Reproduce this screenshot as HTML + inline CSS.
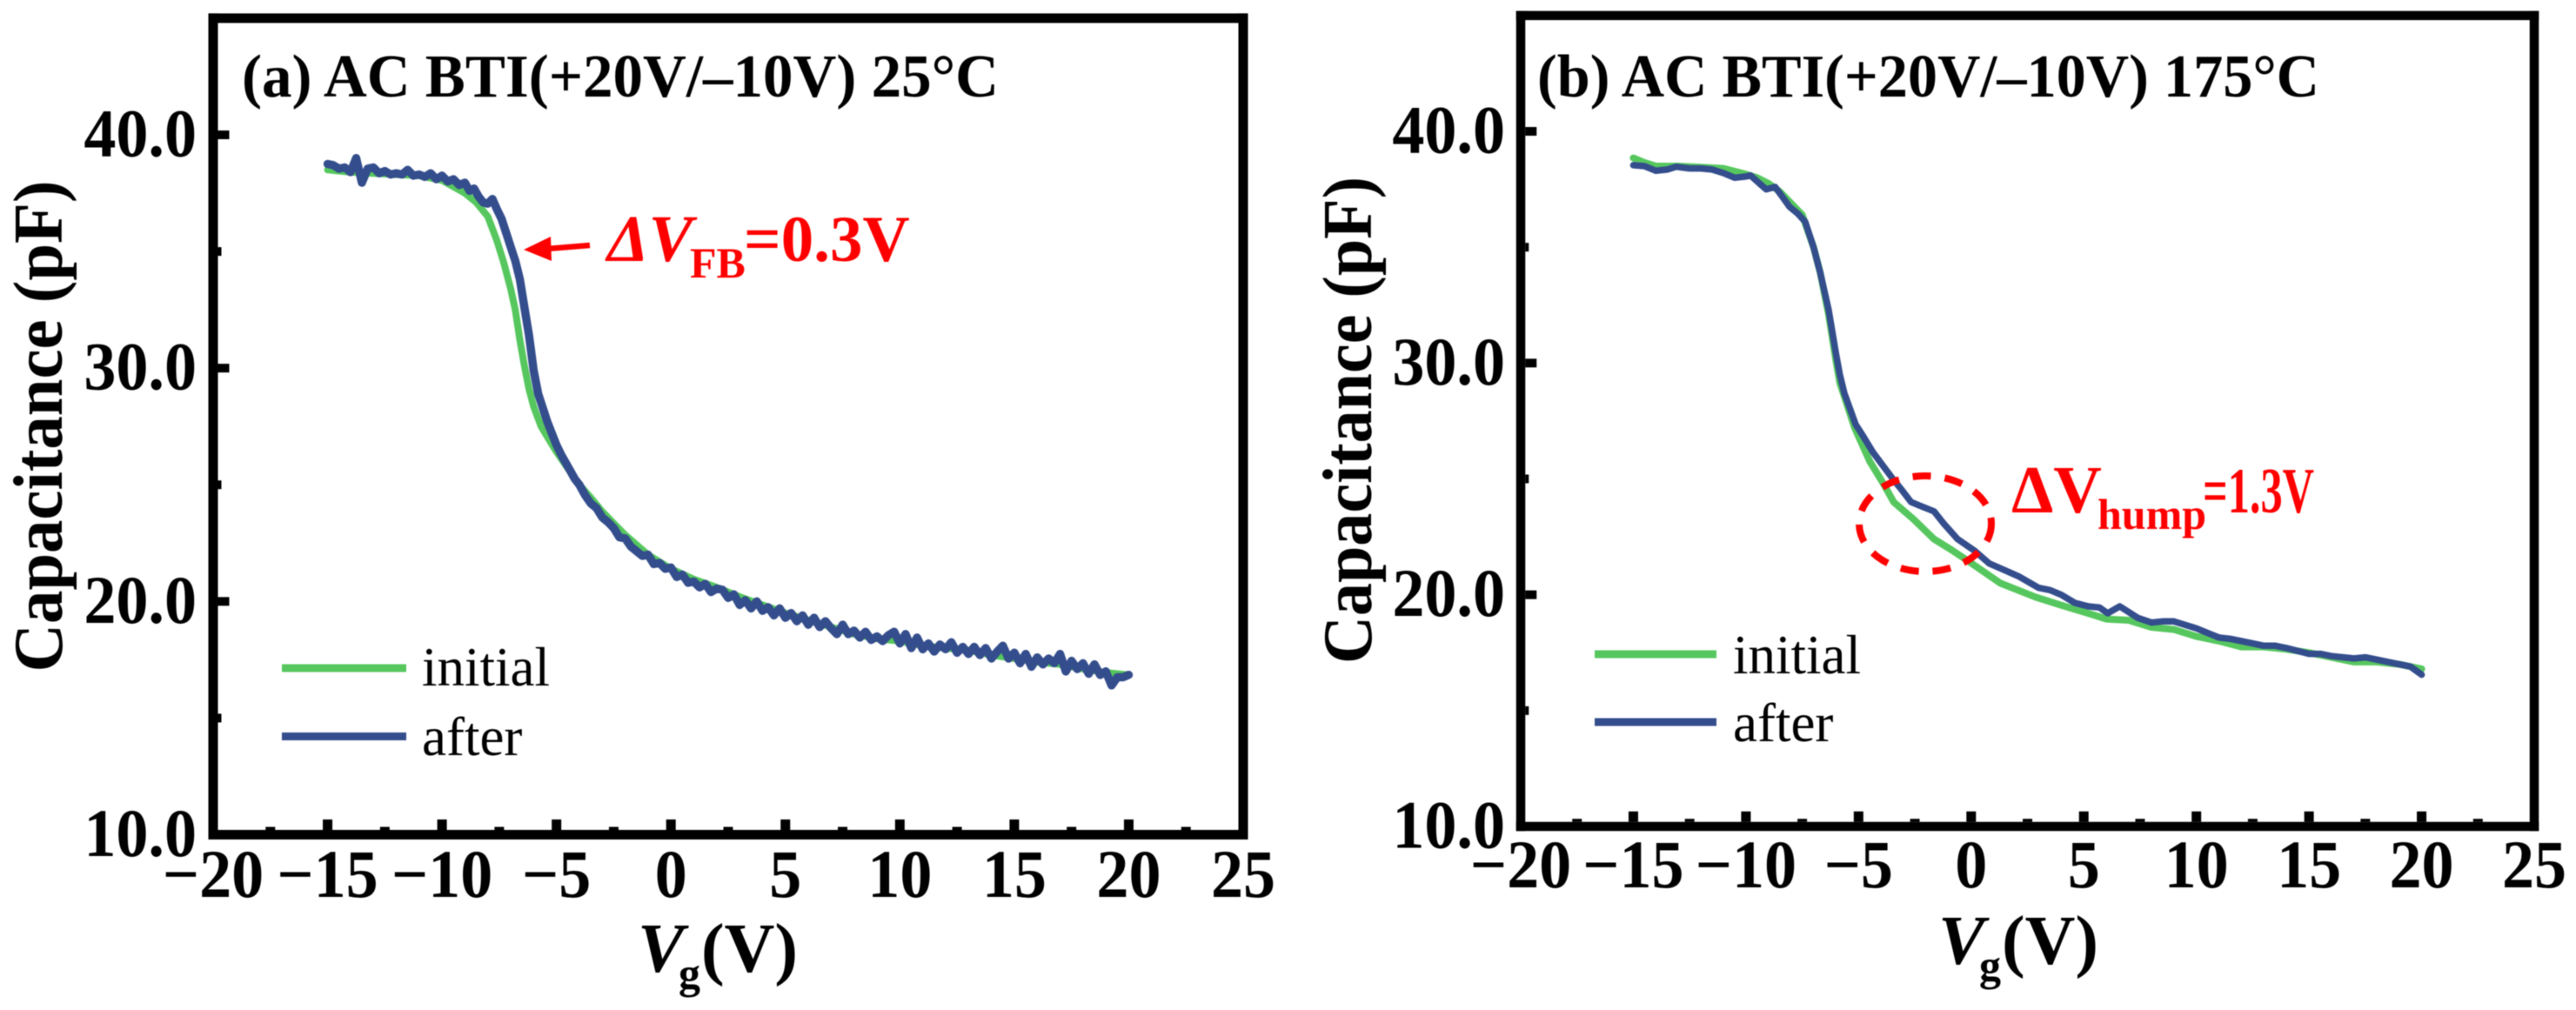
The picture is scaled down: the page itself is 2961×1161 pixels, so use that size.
<!DOCTYPE html>
<html lang="en">
<head>
<meta charset="utf-8">
<title>AC BTI capacitance-voltage curves</title>
<style>
html,body{margin:0;padding:0;background:#fff;}
svg{display:block;filter:blur(0.6px);}
text{font-family:"Liberation Serif","Times New Roman",serif;fill:#000;}
.b{font-weight:bold;}
.i{font-style:italic;}
.red{fill:#ff0000;}
</style>
</head>
<body>
<svg id="figure" xmlns="http://www.w3.org/2000/svg" width="2961" height="1161" viewBox="0 0 2961 1161">
<g id="panel-a">
  <text class="b" x="278" y="111" font-size="70" textLength="870" lengthAdjust="spacingAndGlyphs">(a) AC BTI(+20V/–10V) 25°C</text>
  <text class="b" transform="translate(71,490) rotate(-90)" text-anchor="middle" font-size="80" textLength="565" lengthAdjust="spacingAndGlyphs">Capacitance (pF)</text>
  <text class="b i" x="733" y="1117" font-size="80">V</text>
  <text class="b" x="780" y="1136" font-size="50">g</text>
  <text class="b" x="806" y="1117" font-size="80">(V)</text>
  <text x="485" y="788" font-size="63">initial</text>
  <text x="485" y="868" font-size="63">after</text>
  <line x1="324" x2="467" y1="768" y2="768" stroke="#56c75e" stroke-width="9"/>
  <line x1="324" x2="467" y1="846.5" y2="846.5" stroke="#344d8c" stroke-width="9"/>
  <g>
    <line x1="678" y1="282" x2="628" y2="286" stroke="#ff0000" stroke-width="6.5"/>
    <polygon points="602,287 633,272 634,300" fill="#ff0000"/>
    <text class="b i red" x="698" y="300" font-size="76">ΔV</text>
    <text class="b red" x="793" y="319" font-size="50">FB</text>
    <text class="b red" x="855" y="300" font-size="75">=0.3V</text>
  </g>
</g>
<g id="panel-b">
  <text class="b" x="1767" y="111" font-size="70" textLength="899" lengthAdjust="spacingAndGlyphs">(b) AC BTI(+20V/–10V) 175°C</text>
  <text class="b" transform="translate(1576,483) rotate(-90)" text-anchor="middle" font-size="80" textLength="560" lengthAdjust="spacingAndGlyphs">Capacitance (pF)</text>
  <text class="b i" x="2228" y="1108" font-size="80">V</text>
  <text class="b" x="2275" y="1127" font-size="50">g</text>
  <text class="b" x="2301" y="1108" font-size="80">(V)</text>
  <text x="1992" y="774" font-size="63">initial</text>
  <text x="1992" y="852" font-size="63">after</text>
  <line x1="1833" x2="1973" y1="752" y2="752" stroke="#56c75e" stroke-width="9"/>
  <line x1="1833" x2="1973" y1="830" y2="830" stroke="#344d8c" stroke-width="9"/>
  <g>
    <text class="b red" x="2312" y="589" font-size="77">ΔV</text>
    <text class="b red" x="2411" y="608" font-size="50">hump</text>
    <text class="b red" x="2532" y="589" font-size="74" textLength="128" lengthAdjust="spacingAndGlyphs">=1.3V</text>
  </g>
</g>
<script>
// ----- chart data -----
const xTickLabels = [-20, -15, -10, -5, 0, 5, 10, 15, 20, 25];
const yTickLabels = [10, 20, 30, 40];
const vgFine = [-15,-14.75,-14.5,-14.25,-14,-13.75,-13.5,-13.25,-13,-12.75,-12.5,-12.25,-12,-11.75,-11.5,-11.25,-11,-10.75,-10.5,-10.25,-10,-9.75,-9.5,-9.25,-9,
-8.8,-8.6,-8.4,-8.2,-8,-7.8,-7.6,-7.4,-7.2,-7,-6.8,-6.6,-6.4,-6.2,-6,-5.8,-5.6,-5.4,-5.2,-5,-4.8,-4.6,-4.4,-4.2,-4,
-3.75,-3.5,-3.25,-3,-2.75,-2.5,-2.25,-2,-1.75,-1.5,-1.25,-1,-0.75,-0.5,-0.25,0,0.25,0.5,0.75,1,1.25,1.5,1.75,2,2.25,2.5,2.75,3,3.25,3.5,3.75,4,4.25,4.5,4.75,5,5.25,5.5,5.75,6,6.25,6.5,6.75,7,7.25,7.5,7.75,8,8.25,8.5,8.75,9,9.25,9.5,9.75,10,10.25,10.5,10.75,11,11.25,11.5,11.75,12,12.25,12.5,12.75,13,13.25,13.5,13.75,14,14.25,14.5,14.75,15,15.25,15.5,15.75,16,16.25,16.5,16.75,17,17.25,17.5,17.75,18,18.25,18.5,18.75,19,19.25,19.5,19.75,20];
const capAfterA = [38.75,38.7,38.55,38.6,38.4,39,37.95,38.55,38.6,38.35,38.45,38.3,38.35,38.3,38.5,38.25,38.3,38.2,38.35,38.1,38.25,38,38.1,37.85,37.95,
37.6,37.7,37.35,37.1,37.05,37.25,36.8,36.4,35.8,35.2,34.6,33.8,32.6,31.4,29.9,28.9,28.3,27.7,27.2,26.7,26.3,25.95,25.6,25.25,25.0,
24.55,24.2,24,23.6,23.4,23.15,22.75,22.7,22.35,22.15,21.95,22,21.6,21.65,21.4,21.45,21.05,21.15,20.8,20.85,20.6,20.75,20.4,20.55,20.5,20.15,20.3,19.85,20.05,19.7,20,19.6,19.75,19.4,19.7,19.3,19.5,19.15,19.4,19,19.3,18.9,19.15,18.85,18.6,19,18.6,18.75,18.45,18.7,18.35,18.5,18.3,18.55,18.7,18.2,18.6,18,18.45,17.95,18.2,17.85,18.15,17.95,18.25,17.8,18.05,17.75,18.05,17.7,18,17.55,17.85,18.1,17.55,17.8,17.35,17.75,17.2,17.6,17.3,17.55,17.35,17.75,17,17.45,17.1,17.35,16.9,17.3,16.85,17,16.4,16.75,16.75,16.85];
const vgInitialA = [-15,-14,-13,-12,-11,-10,-9,-8.5,-8,-7.6,-7.3,-7,-6.8,-6.6,-6.4,-6.2,-6,-5.67,-5.06,-4.5,-4,-3.5,-3,-2.5,-2,-1,0,1,2,3,4,5,6,7,8,9,10,11,12,13,14,15,16,17,18,19,20];
const capInitialA = [38.5,38.4,38.35,38.3,38.25,38.05,37.5,37.1,36.5,35.45,34.5,33.4,32.5,31.2,30.1,29.1,28.35,27.5,26.5,25.7,25,24.45,23.85,23.35,22.85,22,21.4,20.95,20.6,20.2,19.85,19.5,19.2,18.9,18.6,18.4,18.3,18.1,18,17.9,17.7,17.55,17.4,17.3,17.1,16.95,16.85];
const vgAfterB = [-15,-14.5,-14,-13.5,-13.1,-12.5,-12,-11.5,-11,-10.5,-10,-9.8,-9.4,-9.1,-8.7,-8.4,-8.07,-7.7,-7.37,-7,-6.7,-6.33,-6,-5.83,-5.63,-5.13,-4.8,-4.36,-3.9,-3.44,-3.1,-2.67,-2.3,-1.65,-1.2,-0.6,0.15,0.8,1.4,2.1,3,3.5,4,4.6,5.2,5.7,6.06,6.6,7.4,8,8.5,9,9.5,10,11,11.5,12,13,13.5,14,15,15.5,16,17,17.5,18,19,19.5,20];
const capAfterB = [38.54,38.5,38.3,38.35,38.47,38.4,38.4,38.35,38.2,38,38.05,38.1,37.75,37.5,37.6,37.2,36.75,36.45,36.1,35,33.9,32.3,30.4,29.5,28.7,27.35,26.85,26.15,25.55,24.95,24.55,24,23.85,23.6,23.05,22.4,21.9,21.35,21.1,20.8,20.3,20.2,20,19.65,19.5,19.45,19.2,19.5,19,18.8,18.85,18.85,18.7,18.55,18.15,18.1,18,17.8,17.8,17.7,17.45,17.45,17.35,17.25,17.3,17.2,17,16.9,16.55];
const vgInitialB = [-15,-14.5,-14,-13,-12,-11,-10,-9.5,-9,-8.5,-8,-7.5,-7,-6.7,-6.33,-6,-5.83,-5.17,-4.5,-3.9,-3.44,-2.55,-1.65,-0.9,-0.2,1.3,2.85,4,5.2,6,7,8,9,10,11,12,13,14,15,16,17,18,19,20];
const capInitialB = [38.85,38.65,38.5,38.5,38.45,38.4,38.15,38,37.75,37.4,36.9,36.4,35,33.9,32.1,30.1,29.15,27.2,25.75,24.8,24,23.25,22.4,21.95,21.5,20.5,19.9,19.55,19.2,18.95,18.9,18.6,18.5,18.2,18,17.75,17.75,17.65,17.5,17.3,17.1,17.1,17,16.8];

const SVG_NS = 'http://www.w3.org/2000/svg';
const GREEN = '#56c75e';
const BLUE = '#344d8c';

function makeAxes(box) {
  return {
    x: function (v) { return box.x20 + (v + 20) * (box.x25 - box.x20) / 45; },
    y: function (c) { return box.y10 + (c - 10) * (box.y40 - box.y10) / 30; }
  };
}

function addRect(parent, x, y, w, h) {
  const r = document.createElementNS(SVG_NS, 'rect');
  r.setAttribute('x', x);
  r.setAttribute('y', y);
  r.setAttribute('width', w);
  r.setAttribute('height', h);
  r.setAttribute('fill', '#000');
  parent.appendChild(r);
  return r;
}

function addTickLabel(parent, x, y, anchor, str) {
  const t = document.createElementNS(SVG_NS, 'text');
  t.setAttribute('class', 'b');
  t.setAttribute('font-size', '78');
  t.setAttribute('text-anchor', anchor);
  t.setAttribute('transform', 'translate(' + x + ',' + y + ') scale(0.95,1)');
  t.textContent = str;
  parent.appendChild(t);
  return t;
}

function addCurve(parent, axes, xs, ys, color, width) {
  const d = xs.map(function (v, i) {
    return (i ? 'L' : 'M') + axes.x(v).toFixed(1) + ' ' + axes.y(ys[i]).toFixed(1);
  }).join('');
  const p = document.createElementNS(SVG_NS, 'path');
  p.setAttribute('d', d);
  p.setAttribute('fill', 'none');
  p.setAttribute('stroke', color);
  p.setAttribute('stroke-width', width);
  p.setAttribute('stroke-linejoin', 'round');
  p.setAttribute('stroke-linecap', 'round');
  parent.appendChild(p);
  return p;
}

function drawFrame(group, axes, box) {
  const left = axes.x(-20), right = axes.x(25), bottom = axes.y(10), top = axes.y(45);
  const hw = box.lw / 2;
  const frame = [
    addRect(group, left - hw, top - hw, right - left + box.lw, box.lw),
    addRect(group, left - hw, bottom - hw, right - left + box.lw, box.lw),
    addRect(group, left - hw, top - hw, box.lw, bottom - top + box.lw),
    addRect(group, right - hw, top - hw, box.lw, bottom - top + box.lw)
  ];
  frame.forEach(function (r) {
    
    
  });

  xTickLabels.forEach(function (v) {
    const px = axes.x(v);
    if (v > -20 && v < 25) {
      const tick = addRect(group, px - 5.5, bottom - hw - 12, 11, 12);
      
      
    }
    if (v < 25) {
      const minor = addRect(group, axes.x(v + 2.5) - 5.5, bottom - hw - 3.5, 11, 3.5);
      
      
    }
    const label = addTickLabel(group, px, box.xLabelY, 'middle', v < 0 ? '\u2212' + Math.abs(v) : String(v));
    
    
  });

  yTickLabels.forEach(function (c) {
    const py = axes.y(c);
    if (c > 10) {
      const tick = addRect(group, left + hw, py - 5, 13, 10);
      
      
    }
    const minor = addRect(group, left + hw, axes.y(c + 5) - 5, 4, 10);
    
    
    const label = addTickLabel(group, box.yLabelX, py + 24.5, 'end', c.toFixed(1));
    
    
  });
}

const boxA = { x20: 245, x25: 1429, y10: 959.5, y40: 155, lw: 11, xLabelY: 1031, yLabelX: 226 };
const boxB = { x20: 1748, x25: 2913, y10: 950, y40: 151, lw: 10.5, xLabelY: 1020, yLabelX: 1730 };
const axesA = makeAxes(boxA);
const axesB = makeAxes(boxB);
const groupA = document.getElementById('panel-a');
const groupB = document.getElementById('panel-b');

drawFrame(groupA, axesA, boxA);
drawFrame(groupB, axesB, boxB);

const initialA = addCurve(groupA, axesA, vgInitialA, capInitialA, GREEN, 8);


const afterA = addCurve(groupA, axesA, vgFine, capAfterA, BLUE, 9.5);


const initialB = addCurve(groupB, axesB, vgInitialB, capInitialB, GREEN, 8);


const afterB = addCurve(groupB, axesB, vgAfterB, capAfterB, BLUE, 7.5);



const hump = document.createElementNS(SVG_NS, 'ellipse');
hump.setAttribute('cx', '2213');
hump.setAttribute('cy', '602');
hump.setAttribute('rx', '76');
hump.setAttribute('ry', '55');
hump.setAttribute('fill', 'none');
hump.setAttribute('stroke', '#ff0000');
hump.setAttribute('stroke-width', '8');
hump.setAttribute('stroke-dasharray', '21 16');


groupB.appendChild(hump);
</script>
</svg>
</body>
</html>
